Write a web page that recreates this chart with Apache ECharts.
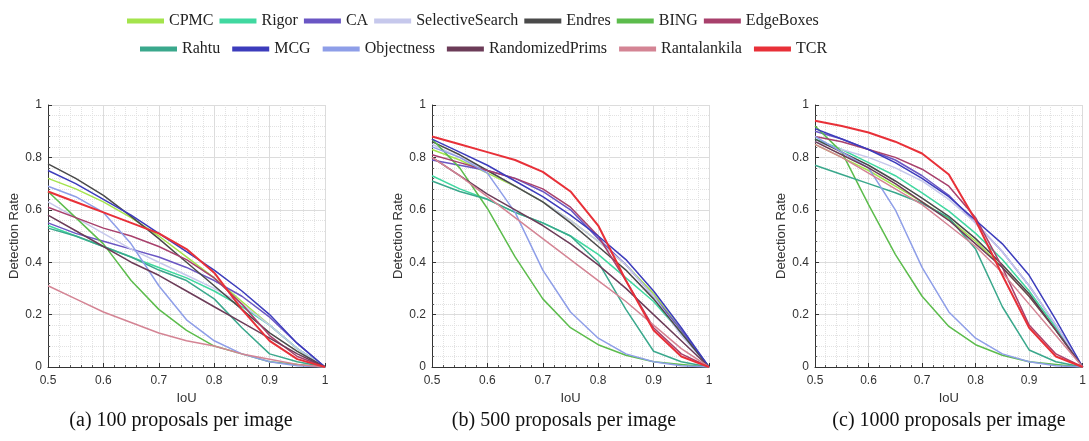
<!DOCTYPE html>
<html><head><meta charset="utf-8">
<script src="https://cdn.jsdelivr.net/npm/echarts@6/dist/echarts.min.js"></script>
<style>html,body{margin:0;padding:0;background:#fff;}#c{width:1089px;height:441px;}</style>
</head><body><div id="c"></div>
<script>
// IoU thresholds
const iou = [0.5, 0.55, 0.6, 0.65, 0.7, 0.75, 0.8, 0.85, 0.9, 0.95, 1.0];
const xTicks = ['0.5','0.6','0.7','0.8','0.9','1'];
const methods = ['CPMC','Rigor','CA','SelectiveSearch','Endres','BING','EdgeBoxes','Rahtu','MCG','Objectness','RandomizedPrims','Rantalankila','TCR'];
const captions = ['(a) 100 proposals per image','(b) 500 proposals per image','(c) 1000 proposals per image'];

// (a) 100 proposals
const cpmc100 = [0.72,0.68,0.63,0.57,0.50,0.42,0.34,0.25,0.16,0.07,0];
const rigor100 = [0.54,0.50,0.46,0.42,0.38,0.34,0.29,0.23,0.16,0.07,0];
const ca100 = [0.55,0.51,0.48,0.45,0.42,0.38,0.33,0.27,0.19,0.09,0];
const ss100 = [0.63,0.57,0.51,0.45,0.40,0.35,0.30,0.24,0.16,0.07,0];
const endres100 = [0.775,0.72,0.655,0.575,0.49,0.40,0.31,0.22,0.13,0.06,0];
const bing100 = [0.67,0.57,0.47,0.33,0.22,0.14,0.08,0.05,0.02,0.01,0];
const edge100 = [0.61,0.57,0.53,0.50,0.46,0.41,0.34,0.24,0.12,0.04,0];
const rahtu100 = [0.53,0.50,0.46,0.42,0.37,0.33,0.26,0.15,0.05,0.02,0];
const mcg100 = [0.75,0.70,0.64,0.58,0.51,0.44,0.37,0.29,0.20,0.09,0];
const obj100 = [0.69,0.65,0.59,0.47,0.31,0.18,0.10,0.05,0.02,0.005,0];
const rp100 = [0.58,0.52,0.46,0.40,0.35,0.29,0.23,0.17,0.11,0.05,0];
const rant100 = [0.31,0.26,0.21,0.17,0.13,0.10,0.08,0.05,0.03,0.01,0];
const tcr100 = [0.67,0.63,0.59,0.55,0.51,0.45,0.36,0.22,0.10,0.03,0];

// (b) 500 proposals
const cpmc500 = [0.83,0.79,0.74,0.69,0.63,0.56,0.48,0.39,0.28,0.14,0];
const rigor500 = [0.73,0.68,0.64,0.59,0.55,0.50,0.43,0.34,0.25,0.13,0];
const ca500 = [0.79,0.77,0.75,0.72,0.67,0.60,0.49,0.39,0.27,0.14,0];
const ss500 = [0.85,0.80,0.75,0.69,0.63,0.56,0.48,0.39,0.27,0.12,0];
const endres500 = [0.86,0.81,0.75,0.69,0.63,0.55,0.46,0.37,0.26,0.13,0];
const bing500 = [0.87,0.76,0.605,0.42,0.26,0.15,0.085,0.045,0.02,0.01,0];
const edge500 = [0.81,0.78,0.75,0.72,0.68,0.61,0.50,0.33,0.15,0.05,0];
const rahtu500 = [0.71,0.67,0.64,0.59,0.55,0.50,0.40,0.22,0.06,0.02,0];
const mcg500 = [0.87,0.82,0.77,0.71,0.65,0.58,0.50,0.41,0.29,0.15,0];
const obj500 = [0.84,0.80,0.74,0.59,0.37,0.21,0.11,0.05,0.02,0.005,0];
const rp500 = [0.80,0.73,0.66,0.60,0.54,0.47,0.39,0.30,0.20,0.10,0];
const rant500 = [0.80,0.73,0.65,0.57,0.49,0.41,0.33,0.25,0.16,0.07,0];
const tcr500 = [0.88,0.85,0.82,0.79,0.745,0.67,0.54,0.33,0.14,0.04,0];

// (c) 1000 proposals
const cpmc1000 = [0.85,0.80,0.75,0.69,0.63,0.565,0.48,0.38,0.27,0.14,0];
const rigor1000 = [0.87,0.83,0.78,0.73,0.665,0.595,0.51,0.41,0.29,0.15,0];
const ca1000 = [0.90,0.87,0.83,0.79,0.73,0.655,0.55,0.44,0.31,0.16,0];
const ss1000 = [0.86,0.83,0.80,0.76,0.71,0.64,0.55,0.44,0.31,0.16,0];
const endres1000 = [0.87,0.82,0.77,0.71,0.645,0.575,0.49,0.39,0.28,0.14,0];
const bing1000 = [0.92,0.82,0.62,0.43,0.27,0.155,0.085,0.045,0.02,0.01,0];
const edge1000 = [0.88,0.86,0.83,0.80,0.755,0.69,0.57,0.38,0.16,0.05,0];
const rahtu1000 = [0.77,0.735,0.70,0.665,0.625,0.57,0.45,0.23,0.065,0.02,0];
const mcg1000 = [0.91,0.87,0.83,0.78,0.72,0.65,0.56,0.47,0.35,0.18,0];
const obj1000 = [0.88,0.82,0.76,0.60,0.38,0.21,0.11,0.05,0.02,0.005,0];
const rp1000 = [0.86,0.81,0.76,0.70,0.63,0.56,0.47,0.38,0.27,0.14,0];
const rant1000 = [0.85,0.80,0.74,0.68,0.62,0.54,0.46,0.36,0.24,0.12,0];
const tcr1000 = [0.94,0.92,0.895,0.86,0.815,0.735,0.56,0.35,0.15,0.04,0];

const panels = [
  [cpmc100,rigor100,ca100,ss100,endres100,bing100,edge100,rahtu100,mcg100,obj100,rp100,rant100,tcr100],
  [cpmc500,rigor500,ca500,ss500,endres500,bing500,edge500,rahtu500,mcg500,obj500,rp500,rant500,tcr500],
  [cpmc1000,rigor1000,ca1000,ss1000,endres1000,bing1000,edge1000,rahtu1000,mcg1000,obj1000,rp1000,rant1000,tcr1000]
];

const colors = {
  CPMC:'#a4e44c', Rigor:'#40d8a0', CA:'#6a56c4', SelectiveSearch:'#c6c8ec', Endres:'#4a4a4a',
  BING:'#5cbc4c', EdgeBoxes:'#a8406c', Rahtu:'#3aa88c', MCG:'#3c3cbc', Objectness:'#8e9ee8',
  RandomizedPrims:'#6c3c58', Rantalankila:'#d48494', TCR:'#e83038'
};

// layout (pixels)
const gridLefts = [48, 432, 815];
const gridW = 277;
const captionX = [181, 564, 949];
const sans = 'Liberation Sans, Arial, sans-serif';
const serif = 'Liberation Serif, Times New Roman, serif';

const grids = gridLefts.map(l => ({left:l, width:gridW, top:105, height:262}));
const xAxes = gridLefts.map((l,i) => ({
  type:'value', gridIndex:i, min:0.5, max:1, interval:0.1,
  name:'IoU', nameLocation:'middle', nameGap:25,
  nameTextStyle:{fontFamily:sans, fontSize:13, color:'#333'},
  axisLine:{show:true, onZero:false, lineStyle:{color:'#333', width:1}},
  axisTick:{show:true, inside:true, length:4, lineStyle:{color:'#333'}},
  minorTick:{show:true, splitNumber:5, length:2, lineStyle:{color:'#555'}},
  axisLabel:{fontFamily:sans, fontSize:12, color:'#333', margin:8,
    formatter: v => xTicks[Math.round((v-0.5)*10)]},
  splitLine:{show:true, lineStyle:{color:'#dcdcdc', width:1}},
  minorSplitLine:{show:true, lineStyle:{color:'#e2e2e2', type:'dotted', width:1}}
}));
const yAxes = gridLefts.map((l,i) => ({
  type:'value', gridIndex:i, min:0, max:1, interval:0.2,
  name:'Detection Rate', nameLocation:'middle', nameGap:24, nameRotate:90,
  nameTextStyle:{fontFamily:sans, fontSize:13, color:'#333'},
  axisLine:{show:true, lineStyle:{color:'#333', width:1}},
  axisTick:{show:true, inside:true, length:4, lineStyle:{color:'#333'}},
  minorTick:{show:true, splitNumber:5, length:2, lineStyle:{color:'#555'}},
  axisLabel:{fontFamily:sans, fontSize:12, color:'#333', margin:6},
  splitLine:{show:true, lineStyle:{color:'#dcdcdc', width:1}},
  minorSplitLine:{show:true, lineStyle:{color:'#e2e2e2', type:'dotted', width:1}}
}));

const series = [];
panels.forEach((vals, p) => {
  methods.forEach((m, k) => {
    series.push({
      type:'line', name:m, xAxisIndex:p, yAxisIndex:p,
      showSymbol:false, symbol:'none', animation:false,
      lineStyle:{color:colors[m], width: m==='TCR'?2:1.5},
      itemStyle:{color:colors[m]},
      z: m==='TCR'?5:2,
      data: iou.map((x,j) => [x, vals[k][j]])
    });
  });
});

const legendCommon = {
  orient:'horizontal', icon:'rect', itemWidth:37, itemHeight:5,
  textStyle:{fontFamily:serif, fontSize:16, color:'#222'}
};

const option = {
  backgroundColor:'#fff',
  animation:false,
  legend:[
    Object.assign({}, legendCommon, {left:122, top:8, itemGap:6, data:methods.slice(0,7)}),
    Object.assign({}, legendCommon, {left:135, top:36, itemGap:12, data:methods.slice(7)})
  ],
  grid:grids, xAxis:xAxes, yAxis:yAxes, series:series,
  graphic: captions.map((c,i) => ({
    type:'text', x: captionX[i], y:421,
    style:{text:c, font:'20px ' + serif, fill:'#111', align:'center', verticalAlign:'middle'}
  }))
};

const chart = echarts.init(document.getElementById('c'), null, {renderer:'canvas'});
chart.setOption(option);
</script></body></html>
